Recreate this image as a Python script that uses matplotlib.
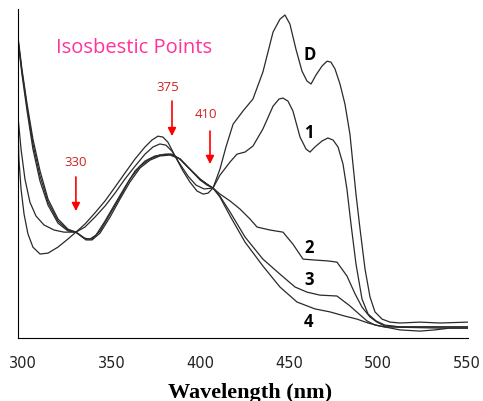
import matplotlib.pyplot as plt

# UV-vis absorption spectra (absorbance in arbitrary units)
wl_D = [297.2, 297.7, 298.9, 300.6, 302.8, 305.6, 309.6, 314.1, 319.7, 325.3, 329.8,
        334.9, 340.5, 346.2, 351.8, 357.4, 363.1, 368.7, 372.6, 376.0, 378.8, 381.6,
        385.6, 390.1, 394.0, 398.0, 401.4, 404.2, 407.0, 410.9, 414.3, 418.3, 423.9,
        429.5, 435.1, 440.8, 444.7, 447.5, 450.3, 453.7, 457.1, 459.9, 462.2, 465.0,
        468.4, 471.2, 473.4, 475.7, 478.5, 481.3, 484.1, 485.8, 487.5, 489.8, 492.6,
        495.4, 498.2, 502.2, 506.7, 512.3, 523.5, 534.8, 550.5]
abs_D = [0.703, 0.597, 0.497, 0.413, 0.347, 0.303, 0.280, 0.283, 0.303, 0.330, 0.353,
         0.380, 0.417, 0.457, 0.503, 0.550, 0.597, 0.637, 0.660, 0.673, 0.670, 0.653,
         0.607, 0.557, 0.520, 0.490, 0.480, 0.483, 0.500, 0.563, 0.637, 0.713, 0.757,
         0.797, 0.887, 1.020, 1.063, 1.077, 1.047, 0.963, 0.890, 0.857, 0.847, 0.877,
         0.907, 0.923, 0.920, 0.897, 0.847, 0.780, 0.680, 0.580, 0.480, 0.363, 0.230,
         0.137, 0.087, 0.063, 0.053, 0.050, 0.053, 0.050, 0.053]

wl_1 = [297.2, 298.9, 301.1, 303.9, 307.3, 311.8, 317.5, 323.1, 329.8, 334.9, 340.5,
        346.2, 351.8, 357.4, 363.1, 368.7, 373.2, 377.1, 380.5, 383.9, 388.4, 392.9,
        397.4, 401.9, 407.0, 410.9, 416.6, 420.5, 425.0, 429.5, 435.1, 440.8, 444.2,
        446.4, 449.2, 452.0, 456.0, 459.4, 461.6, 464.4, 468.4, 471.7, 474.6, 477.4,
        480.2, 482.4, 484.7, 487.5, 490.9, 494.3, 498.8, 503.8, 512.3, 550.5]
abs_1 = [0.737, 0.630, 0.530, 0.453, 0.407, 0.377, 0.360, 0.353, 0.353, 0.370, 0.403,
         0.440, 0.483, 0.530, 0.573, 0.613, 0.637, 0.647, 0.643, 0.623, 0.580, 0.540,
         0.510, 0.497, 0.500, 0.543, 0.587, 0.613, 0.620, 0.640, 0.697, 0.773, 0.797,
         0.800, 0.790, 0.757, 0.670, 0.630, 0.620, 0.637, 0.657, 0.667, 0.660, 0.637,
         0.580, 0.497, 0.380, 0.247, 0.130, 0.080, 0.057, 0.043, 0.037, 0.037]

wl_2 = [297.2, 299.4, 302.3, 305.6, 309.6, 314.1, 319.7, 325.3, 329.8, 334.3, 337.7,
        341.1, 346.2, 351.8, 357.4, 363.1, 368.7, 374.3, 380.0, 383.9, 388.4, 394.0,
        399.7, 403.6, 407.0, 410.9, 416.6, 422.2, 427.8, 431.8, 439.1, 446.4, 452.0,
        457.7, 464.4, 471.7, 476.8, 482.4, 487.0, 490.9, 495.4, 499.3, 503.8, 512.3,
        550.5]
abs_2 = [1.003, 0.897, 0.780, 0.663, 0.557, 0.463, 0.397, 0.363, 0.353, 0.333, 0.330,
         0.343, 0.390, 0.447, 0.503, 0.557, 0.590, 0.607, 0.613, 0.613, 0.597, 0.563,
         0.530, 0.513, 0.500, 0.480, 0.457, 0.430, 0.397, 0.370, 0.360, 0.353, 0.313,
         0.263, 0.260, 0.257, 0.253, 0.207, 0.147, 0.103, 0.070, 0.053, 0.040, 0.037,
         0.037]

wl_3 = [297.2, 299.4, 302.3, 305.6, 309.6, 314.1, 319.7, 325.3, 329.8, 335.5, 338.9,
        343.4, 349.0, 354.6, 360.2, 365.9, 371.5, 377.1, 382.8, 388.4, 394.0, 399.7,
        403.6, 407.0, 410.9, 416.6, 425.0, 435.1, 444.7, 453.2, 459.9, 467.2, 476.8,
        484.1, 489.8, 493.7, 498.2, 503.8, 534.8, 550.5]
abs_3 = [0.997, 0.890, 0.770, 0.647, 0.540, 0.453, 0.390, 0.360, 0.353, 0.330, 0.330,
         0.357, 0.413, 0.470, 0.530, 0.573, 0.597, 0.610, 0.613, 0.597, 0.563, 0.530,
         0.513, 0.500, 0.473, 0.420, 0.337, 0.263, 0.213, 0.170, 0.153, 0.143, 0.140,
         0.107, 0.077, 0.057, 0.043, 0.037, 0.033, 0.033]

wl_4 = [297.2, 299.4, 302.3, 305.6, 309.6, 314.1, 319.7, 325.3, 329.8, 335.5, 338.9,
        343.4, 349.0, 354.6, 360.2, 365.9, 371.5, 377.1, 382.8, 388.4, 394.0, 399.7,
        403.6, 407.0, 410.9, 416.6, 425.0, 435.1, 444.7, 454.3, 464.4, 472.9, 481.3,
        488.1, 494.3, 501.0, 512.3, 523.5, 531.9, 540.3, 550.5]
abs_4 = [0.990, 0.880, 0.757, 0.630, 0.523, 0.443, 0.383, 0.357, 0.353, 0.327, 0.327,
         0.350, 0.403, 0.463, 0.520, 0.567, 0.593, 0.607, 0.610, 0.597, 0.563, 0.527,
         0.510, 0.500, 0.470, 0.407, 0.320, 0.240, 0.170, 0.120, 0.097, 0.087, 0.073,
         0.063, 0.050, 0.040, 0.027, 0.023, 0.027, 0.033, 0.033]

spectra = [(wl_D, abs_D), (wl_1, abs_1), (wl_2, abs_2), (wl_3, abs_3), (wl_4, abs_4)]

# curve labels and their positions
curve_names = ['D', '1', '2', '3', '4']
name_x = [461.6, 461.0, 461.0, 461.0, 461.0]
name_y = [0.947, 0.687, 0.303, 0.197, 0.057]

# isosbestic points: label, arrow x, arrow top, arrow tip
iso_labels = ['330', '375', '410']
iso_x = [329.8, 383.9, 405.3]
iso_top = [0.537, 0.790, 0.690]
iso_tip = [0.423, 0.673, 0.580]
iso_label_x = [329.8, 381.5, 403.0]
iso_label_y = [0.590, 0.837, 0.747]

fig = plt.figure(figsize=(4.83, 4.02), dpi=100)
ax = fig.add_axes([0.0373, 0.1567, 0.9317, 0.8184])

for wl, a in spectra:
    ax.plot(wl, a, color='#2a2a2a', lw=0.9)

for name, x, y in zip(curve_names, name_x, name_y):
    ax.text(x, y, name, fontsize=12, fontweight='bold', family='Open Sans',
            ha='center', va='center')

for lab, x, top, tip, lx, ly in zip(iso_labels, iso_x, iso_top, iso_tip,
                                    iso_label_x, iso_label_y):
    ax.annotate('', xy=(x, tip), xytext=(x, top),
                arrowprops=dict(arrowstyle='-|>', color='red', lw=1.2,
                                mutation_scale=12, shrinkA=0, shrinkB=0))
    ax.text(lx, ly, lab, color='#cc2222', fontsize=9.5, family='Open Sans',
            ha='center', va='center')

ax.text(318.6, 0.97, 'Isosbestic Points', color='#ff3399', fontsize=14.5,
        family='Open Sans', ha='left', va='center')

ax.set_xlim(297.2, 550.6)
ax.set_ylim(0, 1.097)
ax.set_xticks([300, 350, 400, 450, 500, 550])
ax.tick_params(axis='x', length=0, labelsize=10.5, pad=12, colors='#222222')
ax.set_yticks([])
ax.spines['top'].set_visible(False)
ax.spines['right'].set_visible(False)
ax.set_xlabel('Wavelength (nm)', family='Liberation Serif', fontweight='bold',
              fontsize=16)
ax.xaxis.set_label_coords(0.515, -0.135)

fig.savefig('out.png', dpi=100)
